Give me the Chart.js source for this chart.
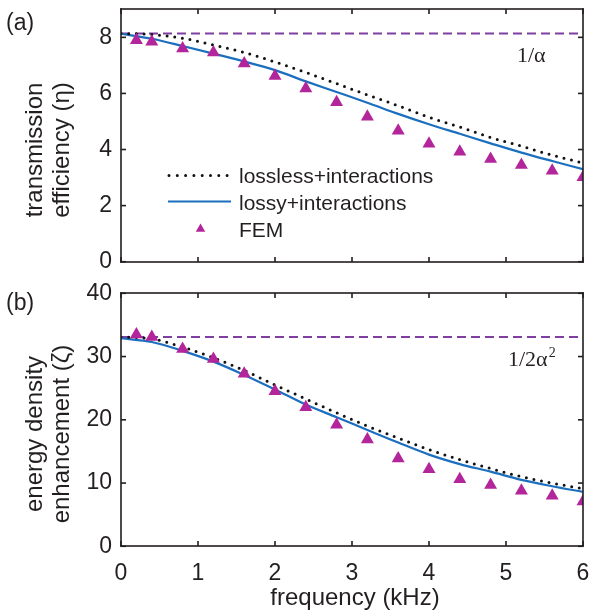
<!DOCTYPE html>
<html><head><meta charset="utf-8">
<script src="https://cdn.jsdelivr.net/npm/chart.js@4/dist/chart.umd.min.js"></script>
<style>
body{margin:0;background:#fff}
#wrap{position:relative;width:592px;height:614px}
canvas{position:absolute;left:0}
</style></head>
<body><div id="wrap">
<canvas id="cTop" width="592" height="280" style="top:0"></canvas>
<canvas id="cBot" width="592" height="334" style="top:280px"></canvas>
</div>
<script>
// ---- data ----
const curveFreq = [0, 0.4, 0.8, 1.2, 1.6, 2.0, 2.4, 2.8, 3.2, 3.6, 4.0, 4.4, 4.8, 5.2, 5.6, 6.0];
const femFreq   = [0.2, 0.4, 0.8, 1.2, 1.6, 2.0, 2.4, 2.8, 3.2, 3.6, 4.0, 4.4, 4.8, 5.2, 5.6, 6.0];
const etaLossless = [8.14, 8.10, 7.97, 7.73, 7.46, 7.12, 6.75, 6.35, 5.95, 5.56, 5.15, 4.80, 4.43, 4.12, 3.80, 3.52];
const etaLossy    = [8.13, 7.95, 7.69, 7.42, 7.14, 6.83, 6.43, 6.05, 5.67, 5.27, 4.90, 4.56, 4.22, 3.89, 3.59, 3.30];
const etaFEM      = [7.90, 7.84, 7.60, 7.46, 7.07, 6.62, 6.18, 5.69, 5.17, 4.67, 4.21, 3.92, 3.66, 3.45, 3.24, 3.01];
const invAlpha = 8.14;
const zetaLossless = [33.1, 32.8, 31.5, 29.8, 27.8, 25.5, 23.3, 21.1, 19.0, 17.1, 15.3, 13.7, 12.3, 11.0, 10.0, 9.1];
const zetaLossy    = [32.9, 32.3, 30.9, 29.2, 27.1, 24.8, 22.4, 20.4, 18.4, 16.4, 14.5, 13.0, 11.8, 10.5, 9.5, 8.6];
const zetaFEM      = [33.5, 33.1, 31.2, 29.6, 27.3, 24.5, 22.0, 19.2, 16.9, 13.9, 12.2, 10.6, 9.7, 8.8, 8.0, 7.1];
const invTwoAlphaSq = 33.1;
const freqRange = [0, 6];
const freqTicks = [0, 1, 2, 3, 4, 5, 6];
const etaRange = [0, 9];
const etaTicks = [0, 2, 4, 6, 8];
const zetaRange = [0, 40];
const zetaTicks = [0, 10, 20, 30, 40];
const seriesNames = ['lossless+interactions', 'lossy+interactions', 'FEM'];

// ---- styles ----
const INK = '#231f20';
const BLUE = '#1c6fbe';
const MAGENTA = '#b3259a';
const PURPLE = '#7e3fa0';
const SANS = '"Liberation Sans", Arial, sans-serif';
const SERIF = '"Liberation Serif", "DejaVu Serif", serif';

const pts = (xs, ys) => xs.map((x, i) => ({x, y: ys[i]}));

function datasets(lossless, lossy, fem, limit) {
  return [
    {label: seriesNames[2], data: pts(femFreq, fem), showLine: false, pointStyle: 'triangle',
     pointRadius: 7.5, pointBackgroundColor: MAGENTA, pointBorderColor: MAGENTA, pointBorderWidth: 0, order: 0, clip: 0},
    {label: seriesNames[0], data: pts(curveFreq, lossless), borderColor: '#111', borderWidth: 3,
     borderDash: [0, 7.7], borderCapStyle: 'round', pointRadius: 0, cubicInterpolationMode: 'monotone', order: 1, fill: false},
    {label: seriesNames[1], data: pts(curveFreq, lossy), borderColor: BLUE, borderWidth: 2.2,
     pointRadius: 0, cubicInterpolationMode: 'monotone', order: 2, fill: false},
    {label: 'limit', data: pts(freqRange, [limit, limit]), borderColor: PURPLE, borderWidth: 2,
     borderDash: [9, 5], pointRadius: 0, order: 3, fill: false}
  ];
}

function frame(chart) {
  const ctx = chart.ctx, a = chart.chartArea, x = chart.scales.x, y = chart.scales.y;
  const L = Math.round(a.left), R = Math.round(a.right), T = Math.round(a.top), B = Math.round(a.bottom);
  const w = 1.6, h = w / 2, tl = 5;
  ctx.save();
  ctx.fillStyle = INK;
  ctx.fillRect(L - h, T - h, R - L + w, w);   // top
  ctx.fillRect(L - h, B - h, R - L + w, w);   // bottom
  ctx.fillRect(L - h, T - h, w, B - T + w);   // left
  ctx.fillRect(R - h, T - h, w, B - T + w);   // right
  freqTicks.forEach(v => {
    const p = x.getPixelForValue(v);
    ctx.fillRect(p - h, B - tl, w, tl);
    ctx.fillRect(p - h, T, w, tl);
  });
  y.ticks.forEach(t => {
    const p = y.getPixelForValue(t.value);
    ctx.fillRect(L, p - h, tl, w);
    ctx.fillRect(R - tl, p - h, tl, w);
  });
  ctx.restore();
}

function rotText(ctx, text, x, y) {
  ctx.save(); ctx.translate(x, y); ctx.rotate(-Math.PI / 2);
  ctx.textAlign = 'center'; ctx.textBaseline = 'alphabetic';
  ctx.fillText(text, 0, 0); ctx.restore();
}

function triangle(ctx, x, y, r) {
  ctx.beginPath();
  ctx.moveTo(x, y - r);
  ctx.lineTo(x + r * Math.sqrt(3) / 2, y + r / 2);
  ctx.lineTo(x - r * Math.sqrt(3) / 2, y + r / 2);
  ctx.closePath(); ctx.fill();
}

const topDecor = {
  id: 'topDecor',
  afterDraw(chart) {
    frame(chart);
    const ctx = chart.ctx;
    ctx.save();
    ctx.fillStyle = INK;
    ctx.font = '23px ' + SANS; ctx.textAlign = 'left'; ctx.textBaseline = 'alphabetic';
    ctx.fillText('(a)', 6, 30);
    ctx.font = '24px ' + SANS;
    rotText(ctx, 'transmission', 42, 150);
    rotText(ctx, 'efficiency (\u03b7)', 69, 150);
    ctx.font = '22px ' + SERIF; ctx.textAlign = 'left';
    ctx.fillText('1/\u03b1', 517, 62);
    // legend
    ctx.font = '21px ' + SANS;
    const lx = 239, base = [183.3, 210, 236.7];
    seriesNames.forEach((n, i) => ctx.fillText(n, lx, base[i]));
    ctx.lineCap = 'round';
    ctx.strokeStyle = '#111'; ctx.lineWidth = 3; ctx.setLineDash([0, 8.3]);
    ctx.beginPath(); ctx.moveTo(169, 175.5); ctx.lineTo(231, 175.5); ctx.stroke();
    ctx.setLineDash([]); ctx.lineCap = 'butt';
    ctx.strokeStyle = BLUE; ctx.lineWidth = 2.2;
    ctx.beginPath(); ctx.moveTo(168, 201.5); ctx.lineTo(231, 201.5); ctx.stroke();
    ctx.fillStyle = MAGENTA; triangle(ctx, 200.5, 229, 5.5);
    ctx.restore();
  }
};

const botDecor = {
  id: 'botDecor',
  afterDraw(chart) {
    frame(chart);
    const ctx = chart.ctx;
    ctx.save();
    ctx.fillStyle = INK;
    ctx.font = '23px ' + SANS; ctx.textAlign = 'left'; ctx.textBaseline = 'alphabetic';
    ctx.fillText('(b)', 6, 30);
    ctx.font = '24px ' + SANS;
    rotText(ctx, 'energy density', 42, 154);
    rotText(ctx, 'enhancement (\u03b6)', 69, 154);
    ctx.textAlign = 'center';
    ctx.fillText('frequency (kHz)', 355, 325);
    ctx.font = '22px ' + SERIF; ctx.textAlign = 'left';
    const main = '1/2\u03b1';
    ctx.fillText(main, 508, 86);
    const w = ctx.measureText(main).width;
    ctx.font = '14px ' + SERIF;
    ctx.fillText('2', 508 + w + 1, 77);
    ctx.restore();
  }
};

function makeChart(id, dsets, yRange, yTicks, showX, xHeight, pad, plugin) {
  return new Chart(document.getElementById(id), {
    type: 'line',
    data: {datasets: dsets},
    options: {
      responsive: false, animation: false, devicePixelRatio: 1,
      layout: {padding: pad},
      plugins: {legend: {display: false}, tooltip: {enabled: false}},
      scales: {
        x: {type: 'linear', min: freqRange[0], max: freqRange[1],
            afterBuildTicks: s => { s.ticks = freqTicks.map(v => ({value: v})); },
            afterFit: s => { s.height = xHeight; s.paddingLeft = 0; s.paddingRight = 0; s.paddingTop = 0; s.paddingBottom = 0; },
            grid: {display: false, drawTicks: false}, border: {display: false},
            ticks: {display: showX, padding: 14, color: INK, font: {family: SANS, size: 23}, maxRotation: 0}},
        y: {type: 'linear', min: yRange[0], max: yRange[1],
            afterBuildTicks: s => { s.ticks = yTicks.map(v => ({value: v})); },
            afterFit: s => { s.width = 121; s.paddingLeft = 0; s.paddingRight = 0; s.paddingTop = 0; s.paddingBottom = 0; },
            grid: {display: false, drawTicks: false}, border: {display: false},
            ticks: {padding: 9, color: INK, font: {family: SANS, size: 23}}}
      }
    },
    plugins: [plugin]
  });
}

makeChart('cTop', datasets(etaLossless, etaLossy, etaFEM, invAlpha), etaRange, etaTicks, false, 18.3,
  {left: 0, right: 9, top: 9.3, bottom: 0}, topDecor);
makeChart('cBot', datasets(zetaLossless, zetaLossy, zetaFEM, invTwoAlphaSq), zetaRange, zetaTicks, true, 67.7,
  {left: 0, right: 9, top: 13.3, bottom: 0}, botDecor);
</script>
</body></html>
